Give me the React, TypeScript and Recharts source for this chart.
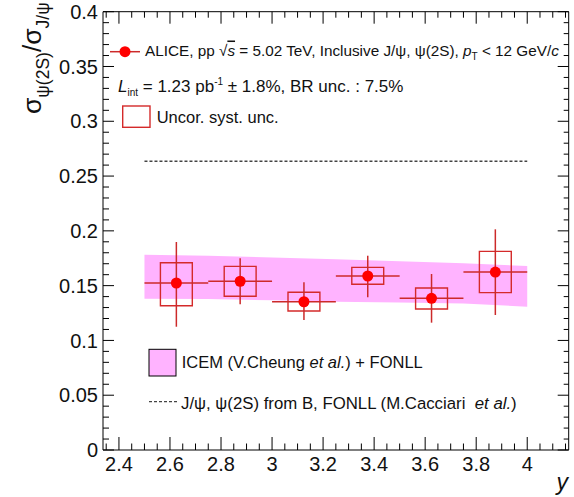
import { ComposedChart, Area, Line, Scatter, ErrorBar, ReferenceArea, XAxis, YAxis } from "recharts";

// ALICE psi(2S)/J/psi ratio vs rapidity
const rapidity = [2.625, 2.875, 3.125, 3.375, 3.625, 3.875];
const ratio = [0.1524, 0.154, 0.1353, 0.1588, 0.1384, 0.1624];
const statHigh = [0.1898, 0.175, 0.153, 0.1773, 0.1606, 0.2014];
const statLow = [0.1125, 0.133, 0.1186, 0.1394, 0.1162, 0.1232];
const systHigh = [0.1709, 0.1676, 0.1439, 0.1667, 0.1478, 0.1813];
const systLow = [0.1317, 0.1403, 0.1269, 0.1512, 0.1287, 0.1436];
const binHalfWidth = 0.125;
const boxHalfWidth = 0.0625;

// ICEM + FONLL band
const icemX = [2.5, 2.75, 3.0, 3.25, 3.5, 3.75, 4.0];
const icemLow = [0.1381, 0.1378, 0.1366, 0.1353, 0.1345, 0.1337, 0.1308];
const icemHigh = [0.1782, 0.1773, 0.1757, 0.174, 0.1722, 0.1704, 0.1679];

// FONLL non-prompt
const fonllX = [2.5, 4.0];
const fonllY = [0.2635, 0.2635];

const xMajorTicks = [2.4, 2.6, 2.8, 3, 3.2, 3.4, 3.6, 3.8, 4];
const yMajorTicks = [0, 0.05, 0.1, 0.15, 0.2, 0.25, 0.3, 0.35, 0.4];
const xDomain: [number, number] = [2.3375, 4.1625];
const yDomain: [number, number] = [0, 0.4];

// minor ticks: x every 0.05, y every 0.01
const xTicks: number[] = [];
for (let i = 47; i <= 83; i++) xTicks.push(+(i * 0.05).toFixed(2));
const yTicks: number[] = [];
for (let i = 0; i <= 40; i++) yTicks.push(+(i * 0.01).toFixed(2));

const isMajor = (v: number, list: number[]) => list.some((m) => Math.abs(m - v) < 1e-6);

const points = rapidity.map((x, i) => ({
  x,
  y: ratio[i],
  ey: [ratio[i] - statLow[i], statHigh[i] - ratio[i]],
  ex: binHalfWidth,
}));
const band = icemX.map((x, i) => ({ x, band: [icemLow[i], icemHigh[i]] }));
const fonll = fonllX.map((x, i) => ({ x, y: fonllY[i] }));

const FONT = '"Liberation Sans", Arial, Helvetica, sans-serif';
const RED = "#ff0000";
const DARKRED = "#cc2a2a";

function BottomTick({ x, y, payload }: any) {
  const major = isMajor(payload.value, xMajorTicks);
  return (
    <g>
      <line x1={x} x2={x} y1={y} y2={y - (major ? 13 : 6.5)} stroke="#000" />
      {major && (
        <text x={x} y={y + 21} textAnchor="middle" fontSize={20} fontFamily={FONT} fill="#111">
          {String(payload.value)}
        </text>
      )}
    </g>
  );
}

function TopTick({ x, y, payload }: any) {
  const major = isMajor(payload.value, xMajorTicks);
  return <line x1={x} x2={x} y1={y} y2={y + (major ? 12 : 6)} stroke="#000" />;
}

function LeftTick({ x, y, payload }: any) {
  const major = isMajor(payload.value, yMajorTicks);
  return (
    <g>
      <line x1={x} x2={x + (major ? 11 : 6)} y1={y} y2={y} stroke="#000" />
      {major && (
        <text x={x - 5} y={y} dy="0.36em" textAnchor="end" fontSize={20} fontFamily={FONT} fill="#111">
          {String(payload.value)}
        </text>
      )}
    </g>
  );
}

function RightTick({ x, y, payload }: any) {
  const major = isMajor(payload.value, yMajorTicks);
  return <line x1={x} x2={x - (major ? 11 : 5)} y1={y} y2={y} stroke="#000" />;
}

export default function App() {
  return (
    <div style={{ position: "absolute", left: 0, top: 0, width: 574, height: 497, background: "#fff" }}>
      <ComposedChart width={574} height={497} margin={{ top: 10.7, right: 4.3, bottom: 46, left: 102 }}>
        <XAxis
          dataKey="x"
          type="number"
          domain={xDomain}
          allowDataOverflow
          ticks={xTicks}
          interval={0}
          height={1}
          tickSize={0}
          tickMargin={0}
          tickLine={false}
          tick={<BottomTick />}
          axisLine={{ stroke: "#000" }}
        />
        <XAxis
          xAxisId="top"
          orientation="top"
          dataKey="x"
          type="number"
          domain={xDomain}
          allowDataOverflow
          ticks={xTicks}
          interval={0}
          height={1}
          tickSize={0}
          tickMargin={0}
          tickLine={false}
          tick={<TopTick />}
          axisLine={{ stroke: "#000" }}
        />
        <YAxis
          dataKey="y"
          type="number"
          domain={yDomain}
          allowDataOverflow
          ticks={yTicks}
          interval={0}
          width={1}
          tickSize={0}
          tickMargin={0}
          tickLine={false}
          tick={<LeftTick />}
          axisLine={{ stroke: "#000" }}
        />
        <YAxis
          yAxisId="right"
          orientation="right"
          type="number"
          domain={yDomain}
          allowDataOverflow
          ticks={yTicks}
          interval={0}
          width={1}
          tickSize={0}
          tickMargin={0}
          tickLine={false}
          tick={<RightTick />}
          axisLine={{ stroke: "#000" }}
        />
        <Area
          data={band}
          dataKey="band"
          type="linear"
          stroke="none"
          fill="#ffb3ff"
          fillOpacity={1}
          isAnimationActive={false}
        />
        <Line
          data={fonll}
          dataKey="y"
          type="linear"
          stroke="#444"
          strokeWidth={1.4}
          strokeDasharray="3 2"
          dot={false}
          isAnimationActive={false}
        />
        {rapidity.map((x, i) => (
          <ReferenceArea
            key={x}
            x1={x - boxHalfWidth}
            x2={x + boxHalfWidth}
            y1={systLow[i]}
            y2={systHigh[i]}
            fill="none"
            stroke="#d42a2a"
            strokeWidth={1.4}
          />
        ))}
        <Scatter
          data={points}
          dataKey="y"
          isAnimationActive={false}
          shape={(p: any) => <circle cx={p.cx} cy={p.cy} r={5.5} fill={RED} />}
        >
          <ErrorBar dataKey="ey" direction="y" width={0} stroke={DARKRED} strokeWidth={1.5} isAnimationActive={false} />
          <ErrorBar dataKey="ex" direction="x" width={0} stroke={DARKRED} strokeWidth={1.5} isAnimationActive={false} />
        </Scatter>
      </ComposedChart>

      <svg
        width={574}
        height={497}
        style={{ position: "absolute", left: 0, top: 0, pointerEvents: "none" }}
        fontFamily={FONT}
        fill="#111"
      >
        {/* y-axis title */}
        <text transform="translate(41,114) rotate(-90)" fontSize={26.5}>
          σ
          <tspan fontSize={17.5} dy={8}>ψ(2S)</tspan>
          <tspan dy={-8}>/σ</tspan>
          <tspan fontSize={17.5} dy={8}>J/ψ</tspan>
        </text>
        {/* x-axis title */}
        <text x={568} y={490} textAnchor="end" fontSize={23} fontStyle="italic">
          y
        </text>

        {/* top legend */}
        <line x1={110} x2={140} y1={51.7} y2={51.7} stroke={DARKRED} strokeWidth={1.5} />
        <circle cx={125} cy={51.7} r={5.5} fill={RED} />
        <text x={145} y={55.5} fontSize={15.3}>
          ALICE, pp √<tspan fontStyle="italic" style={{ textDecoration: "overline" }}>s</tspan> = 5.02 TeV, Inclusive J/ψ, ψ(2S),{" "}
          <tspan fontStyle="italic">p</tspan>
          <tspan fontSize={10} dy={4}>T</tspan>
          <tspan dy={-4}> &lt; 12 GeV/</tspan>
          <tspan fontStyle="italic">c</tspan>
        </text>
        <text x={118} y={91.5} fontSize={17}>
          <tspan fontStyle="italic">L</tspan>
          <tspan fontSize={10} dy={4}>int</tspan>
          <tspan dy={-4}> = 1.23 pb</tspan>
          <tspan fontSize={10} dy={-7}>-1</tspan>
          <tspan dy={7}> ± 1.8%, BR unc. : 7.5%</tspan>
        </text>
        <rect x={122.7} y={106} width={27.3} height={21.3} fill="none" stroke="#d42a2a" strokeWidth={1.4} />
        <text x={156.7} y={122.7} fontSize={16.5}>
          Uncor. syst. unc.
        </text>

        {/* bottom legend */}
        <rect x={149} y={349.3} width={27} height={26.7} fill="#ffb3ff" stroke="#000" strokeWidth={1} />
        <text x={181.7} y={368} fontSize={16.5}>
          ICEM (V.Cheung <tspan fontStyle="italic">et al.</tspan>) + FONLL
        </text>
        <line x1={149} x2={178} y1={401.7} y2={401.7} stroke="#444" strokeWidth={1.3} strokeDasharray="3 2" />
        <text x={181} y={409} fontSize={16.8}>
          {"J/ψ, ψ(2S) from B, FONLL (M.Cacciari\u00a0\u00a0"}
          <tspan fontStyle="italic">et al.</tspan>)
        </text>
      </svg>
    </div>
  );
}
